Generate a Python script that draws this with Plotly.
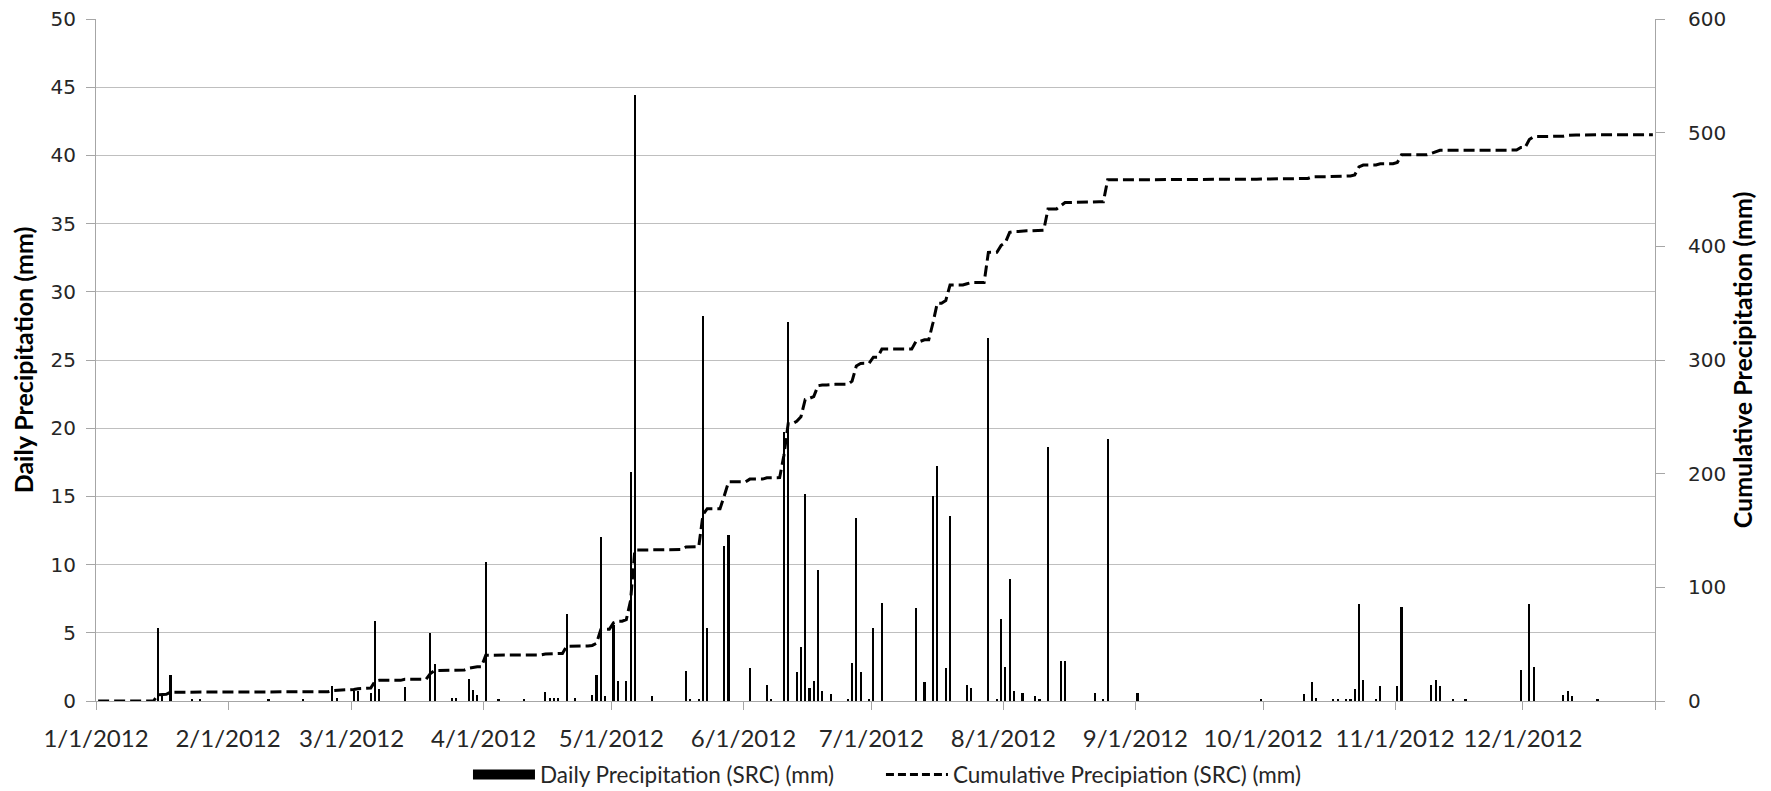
import numpy as np
import pandas as pd
import plotly.graph_objects as go

# ---- Data ----
rain_dates = [
    "2012-01-15", "2012-01-16", "2012-01-18", "2012-01-23", "2012-01-25",
    "2012-02-10", "2012-02-18", "2012-02-25", "2012-02-26",
    "2012-03-01", "2012-03-02", "2012-03-05", "2012-03-06", "2012-03-07",
    "2012-03-13", "2012-03-19", "2012-03-20", "2012-03-24", "2012-03-25",
    "2012-03-28", "2012-03-29", "2012-03-30",
    "2012-04-01", "2012-04-04", "2012-04-10", "2012-04-15", "2012-04-16",
    "2012-04-17", "2012-04-18", "2012-04-20", "2012-04-22", "2012-04-26",
    "2012-04-27", "2012-04-28", "2012-04-29",
    "2012-05-01", "2012-05-02", "2012-05-04", "2012-05-05", "2012-05-06",
    "2012-05-10", "2012-05-18", "2012-05-19", "2012-05-21", "2012-05-22",
    "2012-05-23", "2012-05-27", "2012-05-28",
    "2012-06-02", "2012-06-06", "2012-06-07", "2012-06-10", "2012-06-11",
    "2012-06-13", "2012-06-14", "2012-06-15", "2012-06-16", "2012-06-17",
    "2012-06-18", "2012-06-19", "2012-06-21", "2012-06-25", "2012-06-26",
    "2012-06-27", "2012-06-28", "2012-06-30",
    "2012-07-01", "2012-07-03", "2012-07-11", "2012-07-13", "2012-07-15",
    "2012-07-16", "2012-07-18", "2012-07-19", "2012-07-23", "2012-07-24",
    "2012-07-28", "2012-07-30", "2012-07-31",
    "2012-08-01", "2012-08-02", "2012-08-03", "2012-08-05", "2012-08-08",
    "2012-08-09", "2012-08-11", "2012-08-14", "2012-08-15", "2012-08-22",
    "2012-08-24", "2012-08-25",
    "2012-09-01", "2012-09-30",
    "2012-10-10", "2012-10-12", "2012-10-13", "2012-10-17", "2012-10-18",
    "2012-10-20", "2012-10-21", "2012-10-22", "2012-10-23", "2012-10-24",
    "2012-10-27", "2012-10-28",
    "2012-11-01", "2012-11-02", "2012-11-09", "2012-11-10", "2012-11-11",
    "2012-11-14", "2012-11-17", "2012-11-30",
    "2012-12-02", "2012-12-03", "2012-12-10", "2012-12-11", "2012-12-12",
    "2012-12-18",
]
rain_mm = [
    5.35, 0.5, 1.9, 0.1, 0.1,
    0.1, 0.1, 1.1, 0.2,
    0.7, 0.7, 0.6, 5.87, 0.85,
    1.0, 5.0, 2.7, 0.2, 0.2,
    1.6, 0.8, 0.45,
    10.2, 0.15, 0.12, 0.66, 0.2,
    0.2, 0.2, 6.36, 0.22, 0.45,
    1.9, 12.0, 0.37,
    5.6, 1.45, 1.45, 16.8, 44.4,
    0.37, 2.2, 0.1, 0.15, 28.2,
    5.33, 11.4, 12.2,
    2.4, 1.17, 0.15, 19.7, 27.8,
    2.1, 3.98, 15.2, 0.98, 1.5,
    9.6, 0.7, 0.5, 0.1, 2.76,
    13.4, 2.15, 0.1,
    5.33, 7.16, 6.8, 1.37, 15.0,
    17.2, 2.4, 13.6, 1.17, 0.98,
    26.6, 0.15, 6.0,
    2.5, 8.97, 0.73, 0.6, 0.37,
    0.17, 18.6, 2.9, 2.9, 0.6,
    0.1, 19.2,
    0.6, 0.1,
    0.49, 1.39, 0.24, 0.15, 0.15,
    0.15, 0.15, 0.9, 7.1, 1.54,
    0.1, 1.1,
    1.1, 6.9, 1.17, 1.54, 1.1,
    0.1, 0.1, 2.27,
    7.1, 2.49, 0.42, 0.73, 0.37,
    0.15,
]
month_ticks = ["2012-01-01", "2012-02-01", "2012-03-01", "2012-04-01", "2012-05-01",
               "2012-06-01", "2012-07-01", "2012-08-01", "2012-09-01", "2012-10-01",
               "2012-11-01", "2012-12-01", "2013-01-01"]
month_labels = ["1/1/2012", "2/1/2012", "3/1/2012", "4/1/2012", "5/1/2012",
                "6/1/2012", "7/1/2012", "8/1/2012", "9/1/2012", "10/1/2012",
                "11/1/2012", "12/1/2012", ""]

# ---- Build daily series ----
days = pd.date_range("2012-01-01", "2012-12-31", freq="D")
daily = pd.Series(0.0, index=days)
for d, v in zip(rain_dates, rain_mm):
    daily[pd.Timestamp(d)] += v
cumulative = daily.cumsum()
xc = days + pd.Timedelta(hours=12)   # centre each day between tick marks

AX_GREY = "#A6A6A6"
GRID_GREY = "#BFBFBF"
TXT = "#262626"

fig = go.Figure()
fig.add_trace(go.Bar(
    x=xc, y=daily.values, name="Daily Precipitation (SRC) (mm)",
    marker=dict(color="black", line=dict(width=0)),
    width=0.5 * 86400000, showlegend=False, yaxis="y",
))
fig.add_trace(go.Scatter(
    x=xc, y=cumulative.values, name="Cumulative Precipiation (SRC) (mm)",
    mode="lines", line=dict(color="black", width=3, dash="11px,5px"),
    yaxis="y2", showlegend=False,
))
# legend entries
fig.add_trace(go.Scatter(
    x=[None], y=[None], mode="lines", name="Daily Precipitation (SRC) (mm)",
    line=dict(color="black", width=10), yaxis="y", legend="legend",
))
fig.add_trace(go.Scatter(
    x=[None], y=[None], mode="lines", name="Cumulative Precipiation (SRC) (mm)",
    line=dict(color="black", width=3, dash="8px,4px"), yaxis="y2", legend="legend2",
))

legend_common = dict(
    orientation="h", xanchor="left", y=-0.1085, yanchor="middle",
    font=dict(family="Lato, sans-serif", size=22.5, color=TXT),
    bgcolor="rgba(0,0,0,0)", itemwidth=62,
)

fig.update_layout(
    width=1755, height=783,
    margin=dict(l=88, r=108, t=11, b=90, autoexpand=False),
    paper_bgcolor="white", plot_bgcolor="white",
    bargap=0,
    font=dict(family="Lato, 'DejaVu Sans', sans-serif", color=TXT),
    xaxis=dict(
        type="date", range=["2012-01-01", "2013-01-01"],
        tickmode="array", tickvals=month_ticks, ticktext=month_labels,
        ticks="outside", ticklen=8, tickcolor=AX_GREY, tickwidth=1,
        showline=True, linecolor=AX_GREY, linewidth=1,
        showgrid=False, zeroline=False,
        tickfont=dict(family="Lato, sans-serif", size=24, color=TXT),
        ticklabelstandoff=8, ticklabeloverflow="allow",
    ),
    yaxis=dict(
        range=[0, 50], dtick=5, tick0=0,
        ticks="outside", ticklen=9, tickcolor=AX_GREY,
        showline=True, linecolor=AX_GREY, linewidth=1,
        showgrid=True, gridcolor=GRID_GREY, gridwidth=1, zeroline=False,
        tickfont=dict(family="DejaVu Sans, sans-serif", size=20, color=TXT),
        ticklabelstandoff=6, ticklabeloverflow="allow",
        title=dict(text="<b>Daily Precipitation (mm)</b>", standoff=14,
                   font=dict(family="Lato, sans-serif", size=25, color="black")),
        automargin=False,
    ),
    yaxis2=dict(
        range=[0, 600], dtick=100, tick0=0, overlaying="y", side="right",
        ticks="outside", ticklen=9, tickcolor=AX_GREY,
        showline=True, linecolor=AX_GREY, linewidth=1,
        showgrid=False, zeroline=False,
        tickfont=dict(family="DejaVu Sans, sans-serif", size=20, color=TXT),
        ticklabelstandoff=19, ticklabeloverflow="allow",
        title=dict(text="<b>Cumulative Precipitation (mm)</b>", standoff=9,
                   font=dict(family="Lato, sans-serif", size=25, color="black")),
        automargin=False,
    ),
    legend=dict(x=0.2386, **legend_common),
    legend2=dict(x=0.5035, **legend_common),
)

fig.write_html("out.html")
